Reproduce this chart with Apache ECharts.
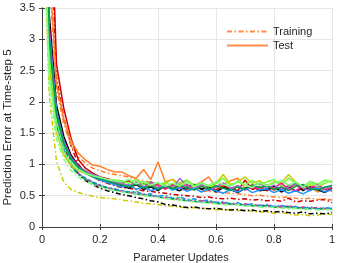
<!DOCTYPE html>
<html>
<head>
<meta charset="utf-8">
<script src="https://cdn.jsdelivr.net/npm/echarts@6/dist/echarts.min.js"></script>
<style>html,body{margin:0;padding:0;background:#fff;}#c{width:341px;height:263px;}</style>
</head>
<body>
<div id="c"></div>
<script>
// x positions (parameter updates, normalized)
const updates = [0.0125, 0.025, 0.05, 0.075, 0.1, 0.125, 0.15, 0.175, 0.2, 0.225, 0.25,
  0.275, 0.3, 0.325, 0.35, 0.375, 0.4, 0.425, 0.45, 0.475, 0.5,
  0.525, 0.55, 0.575, 0.6, 0.625, 0.65, 0.675, 0.7, 0.725, 0.75,
  0.775, 0.8, 0.825, 0.85, 0.875, 0.9, 0.925, 0.95, 0.975, 1.0];

const xTicks = ['0', '0.2', '0.4', '0.6', '0.8', '1'];
const yTicks = ['0', '0.5', '1', '1.5', '2', '2.5', '3', '3.5'];

const redTest = [9.0, 6.0, 2.6, 1.9, 1.42, 1.08, 0.94, 0.86, 0.80, 0.77, 0.74,
  0.71, 0.74, 0.67, 0.70, 0.64, 0.69, 0.62, 0.68, 0.64, 0.60,
  0.67, 0.61, 0.65, 0.59, 0.66, 0.62, 0.58, 0.75, 0.60, 0.64,
  0.58, 0.63, 0.60, 0.66, 0.57, 0.62, 0.59, 0.65, 0.60, 0.58];
const redTrain = [8.5, 5.5, 2.4, 1.75, 1.30, 1.0, 0.88, 0.80, 0.74, 0.70, 0.66,
  0.63, 0.62, 0.60, 0.58, 0.57, 0.55, 0.54, 0.52, 0.51, 0.50,
  0.49, 0.47, 0.48, 0.46, 0.45, 0.46, 0.44, 0.45, 0.43, 0.44,
  0.42, 0.43, 0.41, 0.46, 0.40, 0.42, 0.41, 0.43, 0.44, 0.39];
const orangeTest = [7.0, 4.2, 2.3, 1.72, 1.38, 1.18, 1.07, 0.99, 0.97, 0.92, 0.88,
  0.88, 0.82, 0.78, 0.92, 0.76, 1.04, 0.72, 0.76, 0.68, 0.74,
  0.66, 0.72, 0.80, 0.62, 0.68, 0.74, 0.78, 0.62, 0.68, 0.60,
  0.66, 0.58, 0.64, 0.62, 0.67, 0.60, 0.64, 0.56, 0.62, 0.58];
const orangeTrain = [6.5, 4.0, 2.2, 1.65, 1.30, 1.12, 1.02, 0.94, 0.90, 0.86, 0.84,
  0.82, 0.80, 0.76, 0.74, 0.71, 0.68, 0.66, 0.65, 0.63, 0.62,
  0.60, 0.58, 0.57, 0.56, 0.55, 0.54, 0.53, 0.52, 0.50, 0.51,
  0.49, 0.48, 0.47, 0.48, 0.46, 0.45, 0.46, 0.44, 0.45, 0.43];
const yellowTest = [4.5, 2.6, 1.5, 1.15, 0.98, 0.90, 0.85, 0.80, 0.76, 0.73, 0.71,
  0.70, 0.66, 0.72, 0.64, 0.68, 0.62, 0.70, 0.76, 0.64, 0.72,
  0.62, 0.68, 0.60, 0.70, 0.84, 0.68, 0.72, 0.80, 0.70, 0.74,
  0.66, 0.72, 0.70, 0.84, 0.72, 0.64, 0.68, 0.62, 0.70, 0.74];
const yellowTrain = [3.9, 2.1, 1.05, 0.72, 0.60, 0.55, 0.52, 0.49, 0.47, 0.46, 0.45,
  0.43, 0.42, 0.40, 0.38, 0.37, 0.36, 0.34, 0.33, 0.32, 0.30,
  0.31, 0.29, 0.30, 0.28, 0.27, 0.28, 0.26, 0.27, 0.25, 0.24,
  0.24, 0.22, 0.23, 0.21, 0.19, 0.20, 0.18, 0.19, 0.21, 0.20];
const blackTest = [6.0, 3.4, 1.95, 1.45, 1.15, 0.98, 0.88, 0.82, 0.76, 0.73, 0.70,
  0.66, 0.62, 0.68, 0.60, 0.64, 0.58, 0.66, 0.62, 0.58, 0.64,
  0.68, 0.60, 0.64, 0.56, 0.63, 0.60, 0.55, 0.62, 0.66, 0.58,
  0.60, 0.65, 0.56, 0.62, 0.70, 0.58, 0.64, 0.60, 0.55, 0.62];
const blackTrain = [5.6, 3.1, 1.8, 1.30, 1.02, 0.85, 0.74, 0.68, 0.62, 0.58, 0.55,
  0.52, 0.50, 0.47, 0.45, 0.42, 0.40, 0.36, 0.35, 0.33, 0.31,
  0.32, 0.30, 0.29, 0.30, 0.28, 0.27, 0.28, 0.26, 0.27, 0.25,
  0.26, 0.24, 0.25, 0.23, 0.22, 0.24, 0.21, 0.22, 0.21, 0.23];
const limeTest = [5.0, 2.8, 1.7, 1.3, 1.08, 0.95, 0.87, 0.82, 0.78, 0.76, 0.75,
  0.74, 0.70, 0.76, 0.68, 0.73, 0.66, 0.72, 0.64, 0.71, 0.75,
  0.66, 0.71, 0.64, 0.70, 0.78, 0.66, 0.72, 0.68, 0.74, 0.67,
  0.72, 0.76, 0.66, 0.78, 0.70, 0.64, 0.73, 0.68, 0.75, 0.71];
const limeTrain = [4.8, 2.6, 1.55, 1.18, 0.98, 0.85, 0.77, 0.71, 0.66, 0.63, 0.60,
  0.58, 0.55, 0.56, 0.51, 0.52, 0.48, 0.49, 0.45, 0.47, 0.43,
  0.44, 0.40, 0.42, 0.38, 0.39, 0.36, 0.38, 0.34, 0.36, 0.33,
  0.35, 0.31, 0.33, 0.30, 0.32, 0.29, 0.31, 0.28, 0.30, 0.29];
const pinkTest = [5.5, 3.2, 1.85, 1.38, 1.12, 0.97, 0.88, 0.81, 0.76, 0.72, 0.70,
  0.68, 0.64, 0.70, 0.62, 0.72, 0.66, 0.60, 0.67, 0.62, 0.68,
  0.60, 0.66, 0.58, 0.64, 0.70, 0.61, 0.66, 0.59, 0.64, 0.60,
  0.67, 0.62, 0.70, 0.61, 0.58, 0.66, 0.62, 0.68, 0.60, 0.63];
const pinkTrain = [5.2, 3.0, 1.72, 1.25, 1.0, 0.86, 0.77, 0.70, 0.65, 0.62, 0.60,
  0.57, 0.55, 0.53, 0.52, 0.50, 0.48, 0.47, 0.45, 0.44, 0.43,
  0.41, 0.42, 0.40, 0.38, 0.39, 0.37, 0.36, 0.37, 0.35, 0.34,
  0.35, 0.33, 0.32, 0.34, 0.31, 0.32, 0.30, 0.31, 0.29, 0.30];
const purpleTest = [5.3, 3.0, 1.8, 1.33, 1.1, 0.96, 0.90, 0.84, 0.80, 0.74, 0.72,
  0.70, 0.66, 0.72, 0.64, 0.70, 0.62, 0.67, 0.60, 0.78, 0.66,
  0.62, 0.68, 0.60, 0.64, 0.70, 0.62, 0.66, 0.60, 0.65, 0.70,
  0.62, 0.67, 0.60, 0.64, 0.69, 0.62, 0.58, 0.65, 0.61, 0.67];
const purpleTrain = [5.0, 2.8, 1.65, 1.22, 0.98, 0.85, 0.78, 0.72, 0.67, 0.63, 0.60,
  0.58, 0.56, 0.54, 0.52, 0.50, 0.49, 0.47, 0.45, 0.44, 0.42,
  0.41, 0.40, 0.39, 0.40, 0.37, 0.36, 0.37, 0.35, 0.34, 0.35,
  0.33, 0.32, 0.34, 0.31, 0.32, 0.30, 0.31, 0.29, 0.30, 0.28];
const blueTest = [5.4, 3.1, 1.85, 1.36, 1.1, 0.95, 0.86, 0.80, 0.75, 0.71, 0.68,
  0.64, 0.67, 0.60, 0.65, 0.58, 0.62, 0.66, 0.59, 0.63, 0.57,
  0.62, 0.56, 0.61, 0.58, 0.54, 0.60, 0.56, 0.62, 0.55, 0.59,
  0.61, 0.55, 0.60, 0.54, 0.58, 0.53, 0.59, 0.62, 0.56, 0.60];
const blueTrain = [5.1, 2.9, 1.7, 1.24, 0.99, 0.86, 0.78, 0.72, 0.67, 0.63, 0.61,
  0.58, 0.56, 0.57, 0.52, 0.53, 0.49, 0.51, 0.46, 0.48, 0.44,
  0.45, 0.42, 0.43, 0.39, 0.41, 0.37, 0.39, 0.35, 0.37, 0.34,
  0.36, 0.33, 0.35, 0.31, 0.33, 0.30, 0.32, 0.29, 0.31, 0.30];
const greenTest = [5.2, 3.0, 1.8, 1.34, 1.08, 0.95, 0.87, 0.81, 0.77, 0.73, 0.70,
  0.67, 0.64, 0.69, 0.62, 0.66, 0.60, 0.65, 0.61, 0.67, 0.62,
  0.59, 0.65, 0.60, 0.66, 0.62, 0.58, 0.64, 0.60, 0.67, 0.63,
  0.66, 0.60, 0.64, 0.58, 0.65, 0.68, 0.61, 0.59, 0.64, 0.66];
const greenTrain = [4.9, 2.7, 1.62, 1.2, 0.97, 0.84, 0.76, 0.70, 0.66, 0.62, 0.59,
  0.57, 0.55, 0.53, 0.51, 0.50, 0.48, 0.46, 0.45, 0.43, 0.42,
  0.41, 0.39, 0.40, 0.38, 0.36, 0.37, 0.35, 0.36, 0.34, 0.33,
  0.34, 0.32, 0.31, 0.33, 0.30, 0.31, 0.29, 0.30, 0.28, 0.29];
const mintTest = [4.2, 2.4, 1.55, 1.2, 1.02, 0.92, 0.86, 0.82, 0.79, 0.76, 0.74,
  0.72, 0.76, 0.69, 0.73, 0.67, 0.71, 0.65, 0.70, 0.66, 0.72,
  0.64, 0.70, 0.67, 0.73, 0.68, 0.65, 0.74, 0.67, 0.63, 0.71,
  0.66, 0.70, 0.75, 0.67, 0.72, 0.64, 0.70, 0.66, 0.71, 0.74];
const mintTrain = [4.0, 2.2, 1.4, 1.08, 0.9, 0.8, 0.73, 0.68, 0.64, 0.61, 0.58,
  0.56, 0.54, 0.52, 0.50, 0.49, 0.47, 0.46, 0.44, 0.43, 0.41,
  0.40, 0.39, 0.38, 0.37, 0.36, 0.35, 0.36, 0.34, 0.33, 0.32,
  0.31, 0.32, 0.30, 0.29, 0.30, 0.28, 0.29, 0.27, 0.28, 0.27];

const runs = [
  ['#CC0000', redTrain, redTest],
  ['#FF7F2A', orangeTrain, orangeTest],
  ['#CCCC00', yellowTrain, yellowTest],
  ['#000000', blackTrain, blackTest],
  ['#66FF33', limeTrain, limeTest],
  ['#FF1A8C', pinkTrain, pinkTest],
  ['#A070C8', purpleTrain, purpleTest],
  ['#1E90FF', blueTrain, blueTest],
  ['#00A050', greenTrain, greenTest],
  ['#80FF80', mintTrain, mintTest]
];

const dashDot = [5, 2.5, 1.5, 2.5];
const zip = v => updates.map((x, i) => [x, v[i]]);

const series = [];
runs.forEach((r, k) => {
  series.push({name: 'train' + k, type: 'line', data: zip(r[1]), showSymbol: false, symbol: 'none',
    lineStyle: {color: r[0], width: 1.5, type: dashDot}, itemStyle: {color: r[0]}, z: 2});
});
runs.forEach((r, k) => {
  series.push({name: 'test' + k, type: 'line', data: zip(r[2]), showSymbol: false, symbol: 'none',
    lineStyle: {color: r[0], width: 1.5}, itemStyle: {color: r[0]}, z: 3});
});
const legendCol = '#FF8C4A';
series.push({name: 'Training', type: 'line', data: [], symbol: 'none',
  lineStyle: {color: legendCol, width: 1.5, type: dashDot}, itemStyle: {color: 'rgba(0,0,0,0)', opacity: 0}});
series.push({name: 'Test', type: 'line', data: [], symbol: 'none',
  lineStyle: {color: legendCol, width: 1.5}, itemStyle: {color: 'rgba(0,0,0,0)', opacity: 0}});

const font = 'Liberation Sans, Arial, sans-serif';
const axisCol = '#404040';
const txtCol = '#262626';

const chart = echarts.init(document.getElementById('c'));
chart.setOption({
  animation: false,
  backgroundColor: '#fff',
  grid: {left: 42, right: 9, top: 8, bottom: 36, containLabel: false, outerBoundsMode: 'none'},
  legend: {
    data: ['Training', 'Test'], orient: 'vertical', left: 226, top: 26, padding: 0,
    itemWidth: 41, itemHeight: 10, itemGap: 3,
    textStyle: {fontSize: 11, color: txtCol, fontFamily: font}
  },
  xAxis: [{
    type: 'value', min: 0, max: 1, interval: 0.2,
    name: 'Parameter Updates', nameLocation: 'middle', nameGap: 25, nameMoveOverlap: false,
    nameTextStyle: {fontSize: 11, color: txtCol, fontFamily: font, padding: [0, 12, 0, 0]},
    axisLine: {show: true, lineStyle: {color: axisCol, width: 1}},
    axisTick: {inside: true, length: 3, lineStyle: {color: axisCol}},
    axisLabel: {margin: 7, fontSize: 11, color: txtCol, fontFamily: font,
      formatter: (v, i) => xTicks[i]},
    splitLine: {show: true, lineStyle: {color: '#E6E6E6', width: 1}}
  }, {
    type: 'value', position: 'top', min: 0, max: 1, interval: 0.2,
    axisLine: {show: true, lineStyle: {color: axisCol, width: 1}},
    axisTick: {inside: true, length: 3, lineStyle: {color: axisCol}},
    axisLabel: {show: false}, splitLine: {show: false}
  }],
  yAxis: [{
    type: 'value', min: 0, max: 3.5, interval: 0.5,
    name: 'Prediction Error at Time-step 5', nameLocation: 'middle', nameGap: 28, nameMoveOverlap: false,
    nameTextStyle: {fontSize: 11.5, color: txtCol, fontFamily: font, padding: [0, 20, 0, 0]},
    axisLine: {show: true, lineStyle: {color: axisCol, width: 1}},
    axisTick: {inside: true, length: 3, lineStyle: {color: axisCol}},
    axisLabel: {margin: 7, fontSize: 11, color: txtCol, fontFamily: font,
      formatter: (v, i) => yTicks[i]},
    splitLine: {show: true, lineStyle: {color: '#E6E6E6', width: 1}}
  }, {
    type: 'value', position: 'right', min: 0, max: 3.5, interval: 0.5,
    axisLine: {show: true, lineStyle: {color: axisCol, width: 1}},
    axisTick: {inside: true, length: 3, lineStyle: {color: axisCol}},
    axisLabel: {show: false}, splitLine: {show: false}
  }],
  series: series
});
</script>
</body>
</html>
